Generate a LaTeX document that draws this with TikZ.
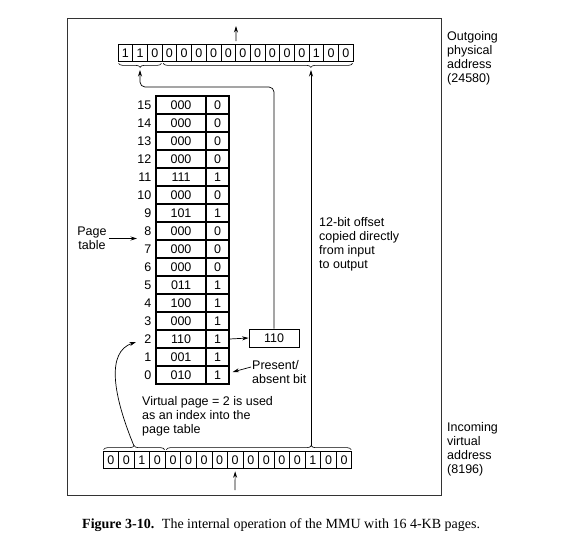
\documentclass[tikz,border=0pt]{standalone}
\usepackage{fontspec}
\setmainfont{Liberation Sans}
\newfontfamily\capfont{Liberation Serif}
\usetikzlibrary{arrows.meta,decorations.pathreplacing}
\begin{document}
\begin{tikzpicture}[x=1pt,y=-1pt,
  txt/.style={font=\fontsize{12.5}{14}\selectfont},
  lbl/.style={txt, inner sep=0pt, align=left},
  tcell/.style={draw, line width=0.7pt, minimum width=14.7pt, minimum height=17pt, inner sep=0pt, txt},
  bcell/.style={tcell, minimum width=15.55pt},
  fcell/.style={draw, line width=1.2pt, minimum width=50pt, minimum height=18pt, inner sep=0pt, txt},
  pcell/.style={fcell, minimum width=23pt},
  arr/.style={-{Stealth[length=6.5pt,width=4pt]}, line width=0.7pt},
  brc/.style={decorate, line width=0.6pt},
]
\useasboundingbox (0,0) rectangle (567,548);
\draw[line width=1pt, black!80] (67,19) rectangle (441,495);

% registers
\foreach \b [count=\i] in {1,1,0,0,0,0,0,0,0,0,0,0,0,1,0,0}
  \node[tcell] (t\i) at ({118+14.7*(\i-0.5)},53) {\b};
\foreach \b [count=\i] in {0,0,1,0,0,0,0,0,0,0,0,0,0,1,0,0}
  \node[bcell] (b\i) at ({103+15.55*(\i-0.5)},460) {\b};
\draw[line width=1.4pt] (t3.north east) -- (t3.south east);
\draw[line width=1.4pt] (b4.north east) -- (b4.south east);

% braces
\draw[brc, decoration={brace, mirror, amplitude=4pt, aspect=0.5}]
  ([shift={(1,1.5)}]t1.south west) -- ([shift={(-1,1.5)}]t3.south east);
\draw[brc, decoration={brace, mirror, amplitude=4pt, aspect=0.78}]
  ([shift={(1.5,1.5)}]t4.south west) -- ([shift={(-1,1.5)}]t16.south east);
\draw[brc, decoration={brace, amplitude=4pt, aspect=0.5}]
  ([shift={(1,-1.5)}]b1.north west) -- ([shift={(-1,-1.5)}]b4.north east);
\draw[brc, decoration={brace, amplitude=4pt, aspect=0.784}]
  ([shift={(1.5,-1.5)}]b5.north west) -- ([shift={(-1,-1.5)}]b16.north east);

\coordinate (tl) at (140,70);
\coordinate (tr) at (311,70);
\coordinate (bl) at (134,446);
\coordinate (br) at (311,446);
\coordinate (bend) at (140,87);
\coordinate (otip) at (236,26);
\coordinate (iin) at (235,490);
\coordinate (ptt) at (137,238.5);
\coordinate (vtip) at (136,342);

% page table
\foreach \f/\p [count=\i from 0] in {010/1,001/1,110/1,000/1,100/1,011/1,000/0,000/0,000/0,101/1,000/0,111/1,000/0,000/0,000/0,000/0} {
  \node[fcell] (f\i) at (181,{375-18*\i}) {\f};
  \node[pcell] (p\i) at (217.5,{375-18*\i}) {\p};
  \node[lbl, anchor=east] (n\i) at (151.5,{375-18*\i}) {\i};
}

\node[tcell, minimum width=50pt, minimum height=18pt, line width=0.8pt] (pf) at (274,338) {110};

% labels
\node[lbl, align=center] (ptl) at (92,238.5) {Page\\table};
\node[lbl, anchor=west] (pa) at (252,372.5) {Present/\\absent bit};
\node[lbl, anchor=west] (vp) at (142,416) {Virtual page = 2 is used\\as an index into the\\page table};
\node[lbl, anchor=west] (off) at (319,244.5) {12-bit offset\\copied directly\\from input\\to output};
\node[lbl, anchor=west] (outl) at (447,58) {Outgoing\\physical\\address\\(24580)};
\node[lbl, anchor=west] (inl) at (447,449) {Incoming\\virtual\\address\\(8196)};
\node[anchor=west, inner sep=0pt, font=\capfont\fontsize{14}{16}\selectfont] (cap) at (82,525)
  {\textbf{Figure 3-10.}\hspace{0.55em}The internal operation of the MMU with 16 4-KB pages.};

% connectors
\draw[arr] ([yshift=3pt]t8.north east) -- (otip);
\draw[arr] (iin) -- ([yshift=-2.5pt]b9.south);
\draw[arr] (br) -- (tr);
\draw[arr, rounded corners=5pt] (pf.north) |- (bend) -- (tl);
\draw[arr] (p2.east) -- (pf.west);
\draw[arr] ([xshift=-1pt,yshift=5.5pt]pa.west) -- ([xshift=3pt,yshift=3pt]p0.east);
\draw[arr] ([xshift=2pt]ptl.east) -- (ptt);
\draw[arr] (bl) .. controls (113,395) and (106,352) .. (vtip);
\end{tikzpicture}
\end{document}
